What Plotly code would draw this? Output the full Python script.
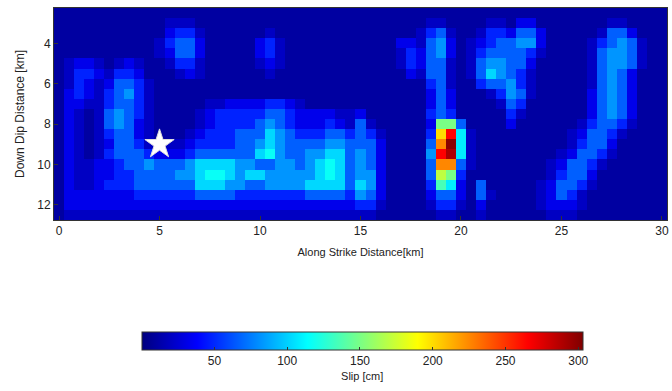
import plotly.graph_objects as go

# Fault-plane grid: along-strike and down-dip cell centres (km)
x_km = [i * 0.5 for i in range(61)]
y_km = [2.5 + j * 0.5 for j in range(21)]

# Slip on each sub-fault (cm), one row per down-dip position, 61 along-strike cells
slip = [
    [10,10,10,10,10,10,10,10,10,10, 10,10,10,10,10,10,10,10,10,10, 10,10,10,10,10,10,10,10,10,10, 10,10,10,10,10,10,10,10,10,10, 10,10,10,10,10,10,10,10,10,10, 10,10,10,10,10,10,10,10,10,10, 10],
    [10,10,10,10,10,10,10,10,10,10, 10,20,20,20,10,10,10,10,10,10, 10,10,10,10,10,10,10,10,10,10, 10,10,10,10,10,10,10,20,20,10, 10,10,10,20,20,10,32,32,10,10, 10,10,10,10,10,20,20,10,10,10, 10],
    [10,10,10,10,10,10,10,10,10,10, 10,32,48,48,20,10,10,10,10,10, 10,20,10,10,10,10,10,10,10,10, 10,10,10,10,10,10,20,48,66,20, 10,10,20,48,48,32,66,66,32,10, 10,10,10,10,20,66,66,32,10,10, 10],
    [10,10,10,10,10,10,10,10,10,10, 20,48,66,66,32,10,10,10,10,10, 32,48,20,10,10,10,10,10,10,10, 10,10,10,10,32,32,20,66,82,32, 10,20,32,48,66,66,82,82,32,10, 10,10,10,20,48,66,82,66,20,10, 10],
    [10,10,10,10,10,10,10,10,10,10, 20,32,66,66,32,10,10,10,10,10, 32,48,20,10,10,10,10,10,10,10, 10,10,10,10,20,48,32,66,82,32, 10,20,48,66,66,66,66,48,20,10, 10,10,10,20,66,82,82,66,20,10, 10],
    [10,20,32,32,20,10,20,32,20,10, 10,20,48,48,20,10,10,10,10,10, 20,32,20,10,10,10,10,10,10,10, 10,10,10,10,20,48,32,66,66,20, 10,20,66,82,82,66,66,32,10,10, 10,10,10,20,66,82,82,66,20,10, 10],
    [10,20,48,48,32,20,48,48,32,10, 10,10,20,32,20,10,10,10,10,10, 10,20,10,10,10,10,10,10,10,10, 10,10,10,10,10,32,20,66,66,20, 10,20,66,102,82,66,48,20,10,10, 10,10,10,20,66,82,66,32,10,10, 10],
    [10,20,48,32,20,32,66,66,48,20, 10,10,10,10,10,10,10,10,10,10, 10,10,10,10,10,10,10,10,10,10, 10,10,10,10,10,10,10,48,66,20, 10,10,48,66,66,82,48,20,10,10, 10,10,10,20,66,82,66,32,10,10, 10],
    [10,32,48,32,20,48,66,82,48,20, 10,10,10,10,10,10,10,10,10,10, 10,10,10,10,10,10,10,10,10,10, 10,10,10,10,10,10,10,32,66,32, 10,10,10,20,48,82,66,20,10,10, 10,10,10,32,66,82,66,32,10,10, 10],
    [10,32,32,20,20,48,66,66,48,20, 10,10,10,10,10,20,20,32,32,32, 32,48,48,32,20,10,10,10,10,10, 10,10,10,10,10,10,10,32,66,32, 10,10,10,10,20,66,48,10,10,10, 10,10,10,32,66,82,66,32,10,10, 10],
    [10,32,20,10,20,66,82,66,48,20, 10,10,10,10,20,32,48,48,48,48, 48,66,66,48,32,32,32,32,20,20, 32,10,10,10,10,10,10,48,66,48, 10,10,10,10,10,48,20,10,10,10, 10,10,10,32,66,82,66,32,10,10, 10],
    [10,32,20,10,20,66,82,66,32,20, 10,10,10,10,20,32,48,48,48,48, 66,82,66,48,32,32,32,48,32,20, 66,20,10,10,10,10,10,32,150,150, 66,10,10,10,10,32,10,10,10,10, 10,10,20,48,66,66,48,20,10,10, 10],
    [10,32,20,10,20,48,66,66,32,20, 10,10,10,20,32,48,48,48,66,66, 66,102,82,66,48,48,48,66,66,48, 66,48,20,10,10,10,10,48,200,265, 108,20,10,10,10,10,10,10,10,10, 10,20,32,66,66,48,20,10,10,10, 10],
    [10,32,20,10,20,32,66,66,48,20, 20,20,20,32,48,48,48,48,66,66, 82,102,82,66,66,66,66,82,82,66, 66,66,32,10,10,10,10,66,225,300, 108,20,10,10,10,10,10,10,10,10, 10,20,48,66,66,32,10,10,10,10, 10],
    [10,32,20,10,20,48,66,66,66,48, 32,32,32,48,66,66,66,66,66,66, 102,116,82,66,66,82,82,102,102,66, 82,66,32,10,10,10,10,82,265,290, 108,20,10,10,10,10,10,10,10,10, 20,32,66,66,48,20,10,10,10,10, 10],
    [10,32,20,20,32,32,48,66,66,82, 66,66,66,82,102,102,102,102,82,82, 66,66,82,82,66,82,102,116,102,66, 82,66,32,10,10,10,10,66,225,225, 66,20,10,10,10,10,10,10,10,20, 32,66,66,48,20,10,10,10,10,10, 10],
    [10,32,20,20,32,32,48,48,66,66, 66,66,82,82,102,116,116,102,82,102, 102,82,82,82,82,82,102,116,102,66, 82,82,32,10,10,10,10,66,170,150, 48,10,10,10,10,10,10,10,10,20, 48,66,66,32,10,10,10,10,10,10, 10],
    [10,32,20,20,32,48,48,48,66,66, 66,66,66,66,102,102,102,82,82,66, 66,82,82,82,82,102,102,102,102,66, 102,82,32,10,10,10,10,48,135,108, 32,10,66,10,10,10,10,10,20,32, 66,66,48,20,10,10,10,10,10,10, 10],
    [10,32,32,32,32,32,32,32,48,48, 48,48,48,48,66,66,66,66,48,48, 48,48,48,48,48,66,66,66,66,48, 82,66,32,10,10,10,10,32,66,66, 32,10,66,20,10,10,10,10,20,32, 66,48,20,10,10,10,10,10,10,10, 10],
    [10,32,32,32,32,32,32,32,32,32, 32,32,32,32,32,32,32,32,32,32, 32,32,32,32,32,32,32,32,32,32, 48,48,20,10,10,10,10,20,48,48, 20,10,32,10,10,10,10,10,20,32, 32,32,20,10,10,10,10,10,10,10, 10],
    [10,20,20,20,20,20,20,20,20,20, 20,20,20,20,20,20,20,20,20,20, 20,20,20,20,20,20,20,20,20,20, 20,20,10,10,10,10,10,10,20,20, 10,10,20,10,10,10,10,10,10,20, 20,20,10,10,10,10,10,10,10,10, 10],
]

# Hypocentre (km)
hypo_x = [5]
hypo_y = [9]

slip_ticks = [50, 100, 150, 200, 250, 300]
x_ticks = [0, 5, 10, 15, 20, 25, 30]
y_ticks = [4, 6, 8, 10, 12]

jet = [
    [0.0, "#00007F"],
    [0.125, "#0000FF"],
    [0.375, "#00FFFF"],
    [0.625, "#FFFF00"],
    [0.875, "#FF0000"],
    [1.0, "#7F0000"],
]

fig = go.Figure()
fig.add_trace(go.Heatmap(
    x=x_km, y=y_km, z=slip,
    colorscale=jet, zmin=0, zmax=303,
    colorbar=dict(
        orientation="h",
        x=0.143, xanchor="left",
        y=-0.528, yanchor="top",
        len=441, lenmode="pixels",
        thickness=18, thicknessmode="pixels",
        outlinewidth=1, outlinecolor="#333333",
        tickvals=slip_ticks,
        ticks="inside", ticklen=3, tickcolor="#333333",
        tickfont=dict(size=12, color="#222222"),
        title=dict(text="Slip [cm]", side="bottom",
                   font=dict(size=11, color="#222222")),
        xpad=0, ypad=0,
    ),
    hoverinfo="skip",
))

fig.add_trace(go.Scatter(
    x=hypo_x, y=hypo_y, mode="markers",
    marker=dict(symbol="star", size=22, color="white",
                line=dict(width=1, color="#dddddd")),
    showlegend=False, hoverinfo="skip",
))

axis_common = dict(
    showgrid=False, zeroline=False,
    showline=True, mirror=True, linecolor="#333333", linewidth=1,
    ticks="inside", ticklen=4, tickcolor="#333333",
    tickfont=dict(size=12, color="#222222"),
)

fig.update_layout(
    width=672, height=391,
    margin=dict(l=54, r=3, t=8, b=171),
    paper_bgcolor="white", plot_bgcolor="white",
    font=dict(family="Liberation Sans, Arial, sans-serif", color="#222222"),
    showlegend=False,
    xaxis=dict(
        range=[-0.25, 30.25], tickvals=x_ticks,
        title=dict(text="Along Strike Distance[km]", font=dict(size=11), standoff=10),
        **axis_common,
    ),
    yaxis=dict(
        range=[12.75, 2.25], tickvals=y_ticks,
        title=dict(text="Down Dip Distance [km]", font=dict(size=12), standoff=10),
        **axis_common,
    ),
)

fig.write_html("out.html")
